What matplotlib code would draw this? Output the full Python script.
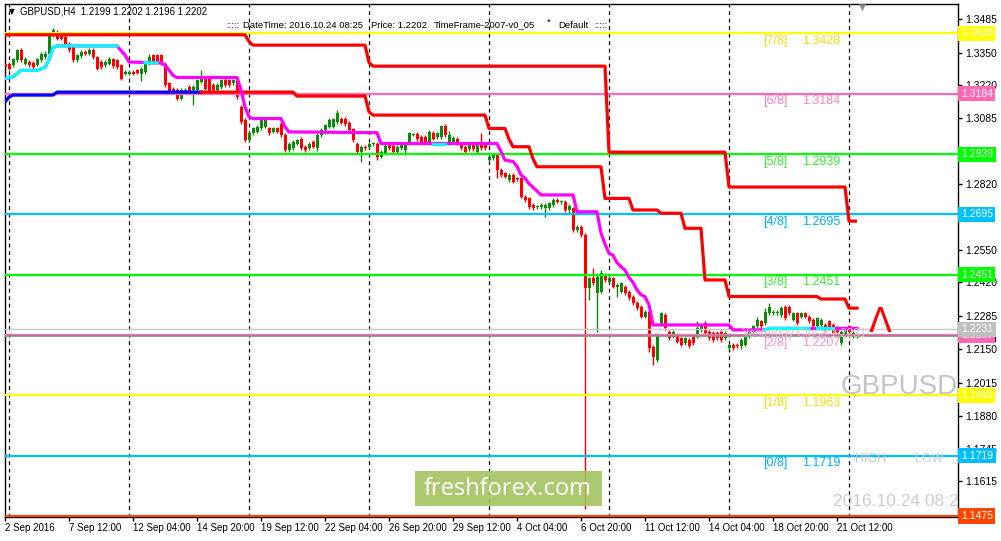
import matplotlib
matplotlib.use("Agg")
import matplotlib.pyplot as plt
import matplotlib.transforms as mtransforms
from matplotlib.patches import Rectangle
import numpy as np

plt.rcParams['font.family'] = ['Liberation Sans', 'DejaVu Sans']

# GBPUSD H4 candles, 2 Sep 2016 .. 24 Oct 2016 08:00
opens = [
    1.3305, 1.3305, 1.3299, 1.3319, 1.3362, 1.3305, 1.3312, 1.3308, 1.3301, 1.3319,
    1.3332, 1.3346, 1.3420, 1.3427, 1.3420, 1.3413, 1.3386, 1.3373, 1.3319, 1.3335,
    1.3353, 1.3346, 1.3362, 1.3332, 1.3312, 1.3299, 1.3305, 1.3322, 1.3319, 1.3299,
    1.3265, 1.3265, 1.3272, 1.3278, 1.3265, 1.3272, 1.3305, 1.3339, 1.3339, 1.3339,
    1.3305, 1.3225, 1.3204, 1.3198, 1.3164, 1.3191, 1.3211, 1.3198, 1.3198, 1.3231,
    1.3245, 1.3245, 1.3218, 1.3198, 1.3211, 1.3241, 1.3238, 1.3225, 1.3245, 1.3130,
    1.3077, 1.2996, 1.3023, 1.3029, 1.3043, 1.3050, 1.3043, 1.3029, 1.3043, 1.3063,
    1.3016, 1.2955, 1.2962, 1.2982, 1.3002, 1.2969, 1.2962, 1.2989, 1.2962, 1.3016,
    1.3036, 1.3050, 1.3050, 1.3070, 1.3083, 1.3081, 1.3066, 1.3039, 1.2982, 1.2949,
    1.2969, 1.2966, 1.2980, 1.2982, 1.2929, 1.2945, 1.2982, 1.2972, 1.2949, 1.2962,
    1.2955, 1.2982, 1.3018, 1.3020, 1.3009, 1.3009, 1.2985, 1.3025, 1.3009, 1.3009,
    1.3052, 1.2985, 1.2986, 1.3002, 1.2976, 1.2969, 1.2958, 1.2982, 1.2949, 1.2982,
    1.2976, 1.2915, 1.2922, 1.2935, 1.2875, 1.2861, 1.2834, 1.2855, 1.2841, 1.2841,
    1.2767, 1.2760, 1.2733, 1.2725, 1.2724, 1.2720, 1.2720, 1.2733, 1.2753, 1.2746,
    1.2747, 1.2713, 1.2720, 1.2632, 1.2646, 1.2612, 1.2396, 1.2437, 1.2376, 1.2383,
    1.2450, 1.2423, 1.2437, 1.2403, 1.2383, 1.2403, 1.2383, 1.2363, 1.2336, 1.2322,
    1.2282, 1.2302, 1.2160, 1.2107, 1.2255, 1.2289, 1.2221, 1.2201, 1.2208, 1.2194,
    1.2174, 1.2188, 1.2201, 1.2201, 1.2228, 1.2255, 1.2221, 1.2215, 1.2215, 1.2221,
    1.2194, 1.2154, 1.2168, 1.2168, 1.2161, 1.2168, 1.2201, 1.2221, 1.2242, 1.2262,
    1.2255, 1.2295, 1.2295, 1.2295, 1.2289, 1.2322, 1.2322, 1.2269, 1.2295, 1.2282,
    1.2295, 1.2282, 1.2269, 1.2242, 1.2248, 1.2248, 1.2262, 1.2248, 1.2235, 1.2174,
    1.2208, 1.2242, 1.2201, 1.2199]
highs = [
    1.3312, 1.3310, 1.3330, 1.3366, 1.3370, 1.3332, 1.3320, 1.3315, 1.3328, 1.3352,
    1.3355, 1.3427, 1.3450, 1.3440, 1.3430, 1.3420, 1.3393, 1.3380, 1.3345, 1.3360,
    1.3359, 1.3368, 1.3368, 1.3338, 1.3318, 1.3318, 1.3332, 1.3328, 1.3325, 1.3305,
    1.3278, 1.3278, 1.3278, 1.3285, 1.3292, 1.3312, 1.3345, 1.3345, 1.3345, 1.3345,
    1.3312, 1.3232, 1.3210, 1.3205, 1.3205, 1.3205, 1.3218, 1.3218, 1.3245, 1.3278,
    1.3251, 1.3251, 1.3225, 1.3225, 1.3245, 1.3248, 1.3245, 1.3245, 1.3251, 1.3137,
    1.3084, 1.3030, 1.3050, 1.3057, 1.3084, 1.3084, 1.3050, 1.3050, 1.3050, 1.3070,
    1.3023, 1.2989, 1.2996, 1.3002, 1.3009, 1.2975, 1.2989, 1.2996, 1.3023, 1.3043,
    1.3063, 1.3084, 1.3087, 1.3117, 1.3090, 1.3088, 1.3073, 1.3046, 1.2989, 1.2976,
    1.2976, 1.2989, 1.2989, 1.2989, 1.2956, 1.2979, 1.2989, 1.2979, 1.2976, 1.2983,
    1.2989, 1.3030, 1.3025, 1.3027, 1.3016, 1.3016, 1.3036, 1.3032, 1.3030, 1.3058,
    1.3059, 1.3034, 1.3012, 1.3009, 1.2983, 1.2976, 1.2983, 1.2989, 1.2983, 1.3023,
    1.2983, 1.2936, 1.2942, 1.2942, 1.2882, 1.2868, 1.2862, 1.2862, 1.2848, 1.2848,
    1.2774, 1.2767, 1.2740, 1.2735, 1.2740, 1.2740, 1.2747, 1.2760, 1.2760, 1.2755,
    1.2754, 1.2736, 1.2727, 1.2653, 1.2653, 1.2619, 1.2444, 1.2477, 1.2450, 1.2470,
    1.2457, 1.2444, 1.2444, 1.2417, 1.2423, 1.2410, 1.2390, 1.2370, 1.2343, 1.2329,
    1.2309, 1.2309, 1.2167, 1.2215, 1.2302, 1.2296, 1.2228, 1.2228, 1.2215, 1.2201,
    1.2201, 1.2195, 1.2208, 1.2262, 1.2255, 1.2262, 1.2228, 1.2222, 1.2222, 1.2228,
    1.2222, 1.2175, 1.2175, 1.2175, 1.2195, 1.2208, 1.2228, 1.2249, 1.2282, 1.2269,
    1.2316, 1.2336, 1.2309, 1.2309, 1.2323, 1.2329, 1.2329, 1.2302, 1.2302, 1.2302,
    1.2302, 1.2289, 1.2276, 1.2282, 1.2276, 1.2255, 1.2269, 1.2255, 1.2242, 1.2228,
    1.2242, 1.2249, 1.2222, 1.2202]
lows = [
    1.3285, 1.3278, 1.3292, 1.3312, 1.3312, 1.3299, 1.3292, 1.3285, 1.3295, 1.3312,
    1.3326, 1.3340, 1.3413, 1.3400, 1.3399, 1.3380, 1.3352, 1.3312, 1.3312, 1.3328,
    1.3340, 1.3340, 1.3326, 1.3278, 1.3285, 1.3292, 1.3299, 1.3288, 1.3285, 1.3238,
    1.3258, 1.3258, 1.3258, 1.3262, 1.3235, 1.3265, 1.3299, 1.3305, 1.3305, 1.3299,
    1.3211, 1.3184, 1.3185, 1.3158, 1.3158, 1.3185, 1.3185, 1.3137, 1.3191, 1.3225,
    1.3198, 1.3185, 1.3191, 1.3185, 1.3204, 1.3211, 1.3211, 1.3218, 1.3164, 1.3063,
    1.2989, 1.2989, 1.3016, 1.3023, 1.3036, 1.3043, 1.3016, 1.3023, 1.3023, 1.3009,
    1.2948, 1.2948, 1.2955, 1.2975, 1.2955, 1.2948, 1.2955, 1.2962, 1.2950, 1.3009,
    1.3029, 1.3043, 1.3043, 1.3063, 1.3060, 1.3052, 1.3029, 1.2989, 1.2942, 1.2908,
    1.2955, 1.2959, 1.2973, 1.2915, 1.2922, 1.2938, 1.2955, 1.2939, 1.2942, 1.2955,
    1.2935, 1.2975, 1.3011, 1.2992, 1.2979, 1.2979, 1.2978, 1.2995, 1.3002, 1.3002,
    1.3009, 1.2978, 1.2979, 1.2975, 1.2955, 1.2942, 1.2951, 1.2951, 1.2942, 1.2955,
    1.2955, 1.2908, 1.2915, 1.2841, 1.2848, 1.2841, 1.2827, 1.2821, 1.2832, 1.2760,
    1.2746, 1.2719, 1.2713, 1.2718, 1.2717, 1.2686, 1.2713, 1.2726, 1.2740, 1.2739,
    1.2706, 1.2699, 1.2625, 1.2625, 1.2605, 1.1505, 1.2349, 1.2410, 1.2221, 1.2376,
    1.2423, 1.2416, 1.2396, 1.2363, 1.2376, 1.2369, 1.2349, 1.2329, 1.2308, 1.2275,
    1.2275, 1.2140, 1.2087, 1.2100, 1.2248, 1.2228, 1.2187, 1.2194, 1.2174, 1.2161,
    1.2167, 1.2154, 1.2167, 1.2194, 1.2221, 1.2208, 1.2187, 1.2181, 1.2187, 1.2181,
    1.2187, 1.2147, 1.2147, 1.2154, 1.2150, 1.2161, 1.2194, 1.2214, 1.2235, 1.2235,
    1.2248, 1.2288, 1.2288, 1.2288, 1.2282, 1.2268, 1.2288, 1.2262, 1.2248, 1.2275,
    1.2275, 1.2255, 1.2235, 1.2235, 1.2241, 1.2221, 1.2228, 1.2208, 1.2214, 1.2167,
    1.2201, 1.2201, 1.2194, 1.2196]
closes = [
    1.3292, 1.3285, 1.3322, 1.3359, 1.3319, 1.3326, 1.3299, 1.3292, 1.3322, 1.3346,
    1.3346, 1.3420, 1.3443, 1.3406, 1.3406, 1.3386, 1.3359, 1.3319, 1.3339, 1.3353,
    1.3346, 1.3362, 1.3332, 1.3285, 1.3292, 1.3312, 1.3326, 1.3295, 1.3292, 1.3245,
    1.3272, 1.3272, 1.3265, 1.3268, 1.3285, 1.3305, 1.3332, 1.3312, 1.3312, 1.3305,
    1.3218, 1.3191, 1.3191, 1.3164, 1.3198, 1.3198, 1.3191, 1.3211, 1.3238, 1.3251,
    1.3204, 1.3191, 1.3198, 1.3218, 1.3238, 1.3218, 1.3218, 1.3238, 1.3171, 1.3070,
    1.2996, 1.3023, 1.3043, 1.3050, 1.3077, 1.3077, 1.3023, 1.3043, 1.3029, 1.3016,
    1.2955, 1.2982, 1.2989, 1.2996, 1.2962, 1.2955, 1.2982, 1.2969, 1.3016, 1.3036,
    1.3056, 1.3077, 1.3080, 1.3106, 1.3067, 1.3059, 1.3036, 1.2996, 1.2949, 1.2969,
    1.2962, 1.2982, 1.2982, 1.2929, 1.2949, 1.2972, 1.2962, 1.2946, 1.2969, 1.2976,
    1.2982, 1.3023, 1.3020, 1.2999, 1.2986, 1.2986, 1.3029, 1.3002, 1.3023, 1.3052,
    1.3016, 1.3016, 1.3005, 1.2982, 1.2962, 1.2949, 1.2976, 1.2958, 1.2976, 1.2962,
    1.2962, 1.2929, 1.2935, 1.2875, 1.2855, 1.2848, 1.2855, 1.2828, 1.2839, 1.2767,
    1.2753, 1.2726, 1.2720, 1.2728, 1.2733, 1.2733, 1.2740, 1.2753, 1.2747, 1.2748,
    1.2713, 1.2729, 1.2632, 1.2646, 1.2612, 1.2396, 1.2437, 1.2417, 1.2443, 1.2457,
    1.2430, 1.2437, 1.2403, 1.2410, 1.2416, 1.2376, 1.2356, 1.2336, 1.2315, 1.2282,
    1.2302, 1.2154, 1.2120, 1.2208, 1.2295, 1.2235, 1.2194, 1.2221, 1.2181, 1.2168,
    1.2194, 1.2161, 1.2174, 1.2235, 1.2248, 1.2215, 1.2194, 1.2188, 1.2194, 1.2188,
    1.2215, 1.2168, 1.2154, 1.2161, 1.2188, 1.2201, 1.2221, 1.2242, 1.2269, 1.2242,
    1.2302, 1.2322, 1.2302, 1.2302, 1.2316, 1.2275, 1.2295, 1.2295, 1.2255, 1.2295,
    1.2282, 1.2262, 1.2242, 1.2275, 1.2269, 1.2228, 1.2235, 1.2215, 1.2221, 1.2221,
    1.2235, 1.2221, 1.2215, 1.2202]

# trailing line (magenta, cyan in places)
trail_bars = [0, 2, 4, 8, 10, 11, 12, 13, 28, 30, 31, 39, 40, 42, 43, 58, 59, 60, 61, 62,
              69, 70, 71, 93, 94, 123, 124, 125, 127, 128, 129, 130, 131, 133, 134, 142,
              143, 148, 149, 150, 151, 152, 153, 154, 155, 156, 157, 158, 159, 160, 161,
              162, 181, 182, 190, 191, 213]
trail_vals = [1.3245, 1.3252, 1.3278, 1.3278, 1.3290, 1.3320, 1.3370, 1.3377, 1.3377, 1.3340,
              1.3312, 1.3308, 1.3300, 1.3258, 1.3249, 1.3249, 1.3200, 1.3130, 1.3090, 1.3083,
              1.3083, 1.3050, 1.3029, 1.3026, 1.2982, 1.2982, 1.2950, 1.2915, 1.2909, 1.2890,
              1.2855, 1.2842, 1.2820, 1.2790, 1.2774, 1.2774, 1.2706, 1.2706, 1.2620, 1.2575,
              1.2538, 1.2530, 1.2500, 1.2484, 1.2470, 1.2440, 1.2420, 1.2390, 1.2370, 1.2363,
              1.2330, 1.2248, 1.2248, 1.2228, 1.2228, 1.2234, 1.2234]
cyan_parts = [
    ([0, 2, 4, 8, 10, 11, 12, 13, 28], [1.3245, 1.3252, 1.3278, 1.3278, 1.3290, 1.3320, 1.3370, 1.3377, 1.3377]),
    ([35, 38], [1.3309, 1.3308]),
    ([107, 110], [1.2982, 1.2982]),
    ([190, 191, 201], [1.2228, 1.2234, 1.2234]),
    ([203, 207], [1.2234, 1.2234]),
]

# upper red stepped line
upper_bars = [0, 60, 61, 62, 90, 91, 92, 150, 151, 180, 181, 210, 211, 213]
upper_vals = [1.3422, 1.3422, 1.3395, 1.3380, 1.3380, 1.3310, 1.3295, 1.3295, 1.2947, 1.2947,
              1.2806, 1.2806, 1.2668, 1.2668]

# lower stepped line (blue first, then red)
lower_blue_bars = [0, 1, 2, 12, 13, 49]
lower_blue_vals = [1.3150, 1.3170, 1.3178, 1.3178, 1.3190, 1.3190]
lower_bars = [49, 72, 73, 90, 91, 92, 120, 121, 125, 126, 127, 131, 132, 133, 149, 150, 156,
              157, 163, 164, 169, 170, 174, 175, 180, 181, 203, 204, 210, 211, 213]
lower_vals = [1.3190, 1.3190, 1.3174, 1.3174, 1.3110, 1.3097, 1.3097, 1.3043, 1.3043, 1.3000,
              1.2969, 1.2969, 1.2920, 1.2888, 1.2888, 1.2760, 1.2760, 1.2713, 1.2713, 1.2700,
              1.2700, 1.2639, 1.2639, 1.2430, 1.2430, 1.2363, 1.2363, 1.2353, 1.2353, 1.2316,
              1.2316]

# Murrey math levels
level_names = ['[7/8]', '[6/8]', '[5/8]', '[4/8]', '[3/8]', '[2/8]', '[1/8]', '[0/8]', '']
level_vals = [1.3428, 1.3184, 1.2939, 1.2695, 1.2451, 1.2207, 1.1963, 1.1719, 1.1475]
level_cols = ['#ffff00', '#ff69b4', '#00ff00', '#00bfff', '#00ff00', '#ff69b4', '#ffff00',
              '#00bfff', '#ff4500']
level_text_cols = ['#f0e000', '#ff80c0', '#33ee33', '#00b0ff', '#33ee33', '#ff90c8', '#f0e000',
                   '#00b0ff', '#ff4500']

yclose = 1.2231
bid = 1.2202

sep_bars = [1, 31, 61, 91, 121, 151, 181, 211]
date_bars = [0, 16, 32, 48, 64, 80, 96, 112, 128, 144, 160, 176, 192, 208]
date_labels = ['2 Sep 2016', '7 Sep 12:00', '12 Sep 04:00', '14 Sep 20:00', '19 Sep 12:00',
               '22 Sep 04:00', '26 Sep 20:00', '29 Sep 12:00', '4 Oct 04:00', '6 Oct 20:00',
               '11 Oct 12:00', '14 Oct 04:00', '18 Oct 20:00', '21 Oct 12:00']
price_ticks = [1.3485, 1.3350, 1.3220, 1.3085, 1.2820, 1.2550, 1.2420,
               1.2285, 1.2150, 1.2015, 1.1880, 1.1745, 1.1615]

W, H = 1001, 541
fig = plt.figure(figsize=(W / 100, H / 100), dpi=100)
fig.patch.set_facecolor('white')
ax = fig.add_axes([5 / W, 1 - 517 / H, 953 / W, 513 / H])
ax.set_xlim(0, 238.25)
ax.set_ylim(1.14710, 1.35465)

idx = np.arange(len(closes))
o = np.array(opens)
c = np.array(closes)
up = c >= o
cols = np.where(up, '#0b8a0b', '#ff0000')

for b in sep_bars:
    ax.axvline(b, color='black', lw=0.9, ls=(0, (3, 3)), zorder=1)

ax.vlines(idx, lows, highs, color=cols, lw=1, zorder=2)
body_lo = np.minimum(o, c)
body_h = np.maximum(np.abs(c - o), 0.00028)
ax.bar(idx, body_h, bottom=body_lo, width=0.75, color=cols, lw=0, zorder=3)

for v, col in zip(level_vals, level_cols):
    ax.axhline(v, color=col, lw=1.6, zorder=4)
ax.axhline(yclose, color='#c8c8c8', lw=1.0, zorder=4)
ax.axhline(bid, color='#8a8a8a', lw=1.2, zorder=4)

ax.plot(upper_bars, upper_vals, color='#ff0000', lw=2.3, zorder=5, solid_capstyle='butt')
ax.plot(lower_blue_bars, lower_blue_vals, color='#0000ff', lw=2.3, zorder=5)
ax.plot(lower_bars, lower_vals, color='#ff0000', lw=2.3, zorder=5)
ax.plot(trail_bars, trail_vals, color='#ff00ff', lw=2.3, zorder=5)
for bx, by in cyan_parts:
    ax.plot(bx, by, color='#00ffff', lw=2.3, zorder=5)

# level labels inside the chart
for name, v, tc in zip(level_names, level_vals, level_text_cols):
    if not name:
        continue
    ax.text(189.5, v - 0.0031, name, color=tc, fontsize=9, va='center', ha='left', zorder=6)
    ax.text(199.25, v - 0.0031, f'{v:.4f}', color=tc, fontsize=9, va='center', ha='left', zorder=6)

ax.text(184.3, 1.2213, 'Yesterday Close 1.2231', color='#c8c8c8', fontsize=8.5,
        va='center', ha='left', zorder=6)
ax.text(212.5, 1.1707, 'HIGH', color='#c8c8c8', fontsize=9, va='center', ha='left', zorder=6)
ax.text(227.5, 1.1707, 'LOW', color='#d0d0d0', fontsize=9, va='center', ha='left', zorder=6)
ax.text(208.9, 1.1995, 'GBPUSD', color='#c4c4c4', fontsize=20, va='center', ha='left', zorder=6)
ax.text(207.0, 1.1535, '2016.10.24 08:25', color='#cccccc', fontsize=12.5, va='center',
        ha='left', zorder=6, clip_on=True)
ax.text(218.75, 1.2258, 'Λ', color='#ff0000', fontsize=24, va='center', ha='center',
        family='DejaVu Sans', zorder=6)

# axes styling
for s in ax.spines.values():
    s.set_color('black')
    s.set_linewidth(1)
ax.yaxis.tick_right()
ax.set_yticks(price_ticks)
ax.set_yticklabels([f'{t:.4f}' for t in price_ticks], fontsize=7.5)
ax.set_xticks(date_bars)
ax.set_xticklabels(date_labels, fontsize=7, ha='left')
ax.tick_params(axis='both', length=3, width=1, colors='black', pad=2)
ax.tick_params(axis='x', pad=1)

# price boxes on the right axis
blend = mtransforms.blended_transform_factory(ax.transAxes, ax.transData)
# bid marker under the pink box
ax.add_patch(Rectangle((1.002, bid - 0.0022), 0.038, 0.0026, transform=blend, fc='black',
                       ec='none', clip_on=False, zorder=6))
box_items = [(v, f'{v:.4f}', col) for v, col in zip(level_vals, level_cols)]
box_items.insert(6, (yclose, f'{yclose:.4f}', '#c0c0c0'))
for v, txt, col in box_items:
    ax.text(1.003, v, txt, transform=blend, color='white', fontsize=7.5, va='center', ha='left',
            bbox=dict(boxstyle='square,pad=0.25', fc=col, ec='none'), clip_on=False, zorder=7)

# header and info line
fig.text(9 / W, 1 - 12 / H, '▼', fontsize=5.5, color='black', va='center', ha='left',
         family='DejaVu Sans')
fig.text(20 / W, 1 - 12 / H, 'GBPUSD,H4  1.2199 1.2202 1.2196 1.2202', fontsize=6.9,
         color='black', va='center', ha='left')
info_y = 1 - 25 / H
fig.text(226 / W, info_y, ':::::', fontsize=6.8, color='#800080', va='center', ha='left')
fig.text(243 / W, info_y, 'DateTime: 2016.10.24 08:25', fontsize=6.8, color='black',
         va='center', ha='left')
fig.text(371 / W, info_y, 'Price: 1.2202', fontsize=6.8, color='black', va='center', ha='left')
fig.text(434 / W, info_y, 'TimeFrame-2007-v0_05', fontsize=6.8, color='black', va='center',
         ha='left')
fig.text(547 / W, 1 - 22 / H, '*', fontsize=6.8, color='black', va='center', ha='left')
fig.text(558 / W, info_y, 'Default', fontsize=6.8, color='black', va='center', ha='left')
fig.text(594 / W, info_y, ':::::', fontsize=6.8, color='#800080', va='center', ha='left')
fig.text(862 / W, 1 - 7 / H, '▼', fontsize=6.5, color='#8a8a8a', va='center', ha='center',
         family='DejaVu Sans')

# watermark
fig.add_artist(Rectangle((415 / W, 1 - 506 / H), 187 / W, 35 / H, transform=fig.transFigure,
                         fc='#a3c35f', ec='none', alpha=0.9, zorder=8))
fig.text(508 / W, 1 - 489 / H, 'freshforex.com', fontsize=17, color='white', va='center',
         ha='center', family='Open Sans', zorder=9)

fig.savefig('out.png', dpi=100)
